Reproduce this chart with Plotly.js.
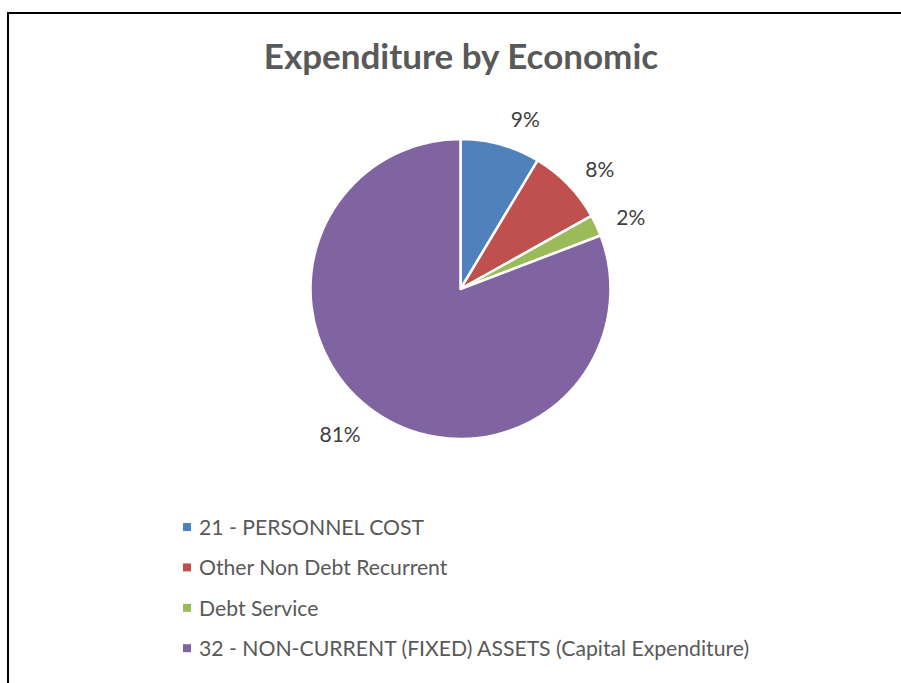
<!DOCTYPE html>
<html>
<head>
<meta charset="utf-8">
<script src="https://cdn.plot.ly/plotly-3.0.1.min.js"></script>
<style>html,body{margin:0;padding:0;background:#fff;}#chart{width:901px;height:683px;}</style>
</head>
<body>
<div id="chart"></div>
<script>
const categories = [
  "21 - PERSONNEL COST",
  "Other Non Debt Recurrent",
  "Debt Service",
  "32 - NON-CURRENT (FIXED) ASSETS (Capital Expenditure)"
];
const shares = [8.6, 8.3, 2.3, 80.8];
const colors = ["#4F81BD", "#C0504D", "#9BBB59", "#8064A2"];
const chartTitle = "Expenditure by Economic";

const W = 901, H = 683;
const cx = 460.5, cy = 289, r = 150, labelR = 165;
const FONT = "Lato, 'Open Sans', sans-serif";

function dom(rad) {
  return {
    x: [(cx - rad) / W, (cx + rad) / W],
    y: [(H - cy - rad) / H, (H - cy + rad) / H]
  };
}

// visible pie
const pie = {
  type: "pie",
  labels: categories,
  values: shares,
  sort: false,
  direction: "clockwise",
  rotation: 0,
  marker: { colors: colors, line: { color: "#ffffff", width: 2.5 } },
  textinfo: "none",
  hoverinfo: "label+percent",
  showlegend: false,
  domain: dom(r)
};

// transparent companion pie carrying the percentage labels slightly further out
const labelPie = {
  type: "pie",
  labels: categories,
  values: shares,
  sort: false,
  direction: "clockwise",
  rotation: 0,
  marker: { colors: shares.map(() => "rgba(0,0,0,0)"), line: { width: 0 } },
  texttemplate: "%{percent:.0%}",
  textposition: "outside",
  outsidetextfont: { family: FONT, size: 21, color: "#404040" },
  hoverinfo: "skip",
  showlegend: false,
  domain: dom(labelR)
};

// legend drawn as annotations + squares
const legendX = 197, legendY0 = 527, legendStep = 40.4, sq = 8;
const annotations = categories.map((c, i) => ({
  xref: "paper", yref: "paper",
  x: legendX / W, y: 1 - (legendY0 + i * legendStep) / H,
  xanchor: "left", yanchor: "middle",
  text: c, showarrow: false,
  font: { family: FONT, size: 21.2, color: "#595959" }
}));
const legendShapes = categories.map((c, i) => {
  const yc = legendY0 + i * legendStep;
  return {
    type: "rect", xref: "paper", yref: "paper",
    x0: 183 / W, x1: (183 + sq) / W,
    y0: 1 - (yc + sq / 2) / H, y1: 1 - (yc - sq / 2) / H,
    line: { width: 0 }, fillcolor: colors[i]
  };
});

const layout = {
  width: W, height: H,
  margin: { l: 0, r: 0, t: 0, b: 0 },
  paper_bgcolor: "#ffffff",
  font: { family: FONT, color: "#595959" },
  title: {
    text: "<b>" + chartTitle + "</b>",
    font: { family: FONT, size: 35, color: "#595959" },
    x: 461 / W, xanchor: "center",
    y: 1 - 57 / H, yanchor: "middle",
    xref: "paper", yref: "container"
  },
  showlegend: false,
  annotations: annotations,
  shapes: [{
    type: "rect", xref: "paper", yref: "paper",
    x0: 8 / W, x1: 1.05, y0: -0.05, y1: 1 - 13 / H,
    line: { color: "#000000", width: 2 }, fillcolor: "rgba(0,0,0,0)"
  }].concat(legendShapes)
};

Plotly.newPlot("chart", [labelPie, pie], layout, { displayModeBar: false, staticPlot: true });
</script>
</body>
</html>
